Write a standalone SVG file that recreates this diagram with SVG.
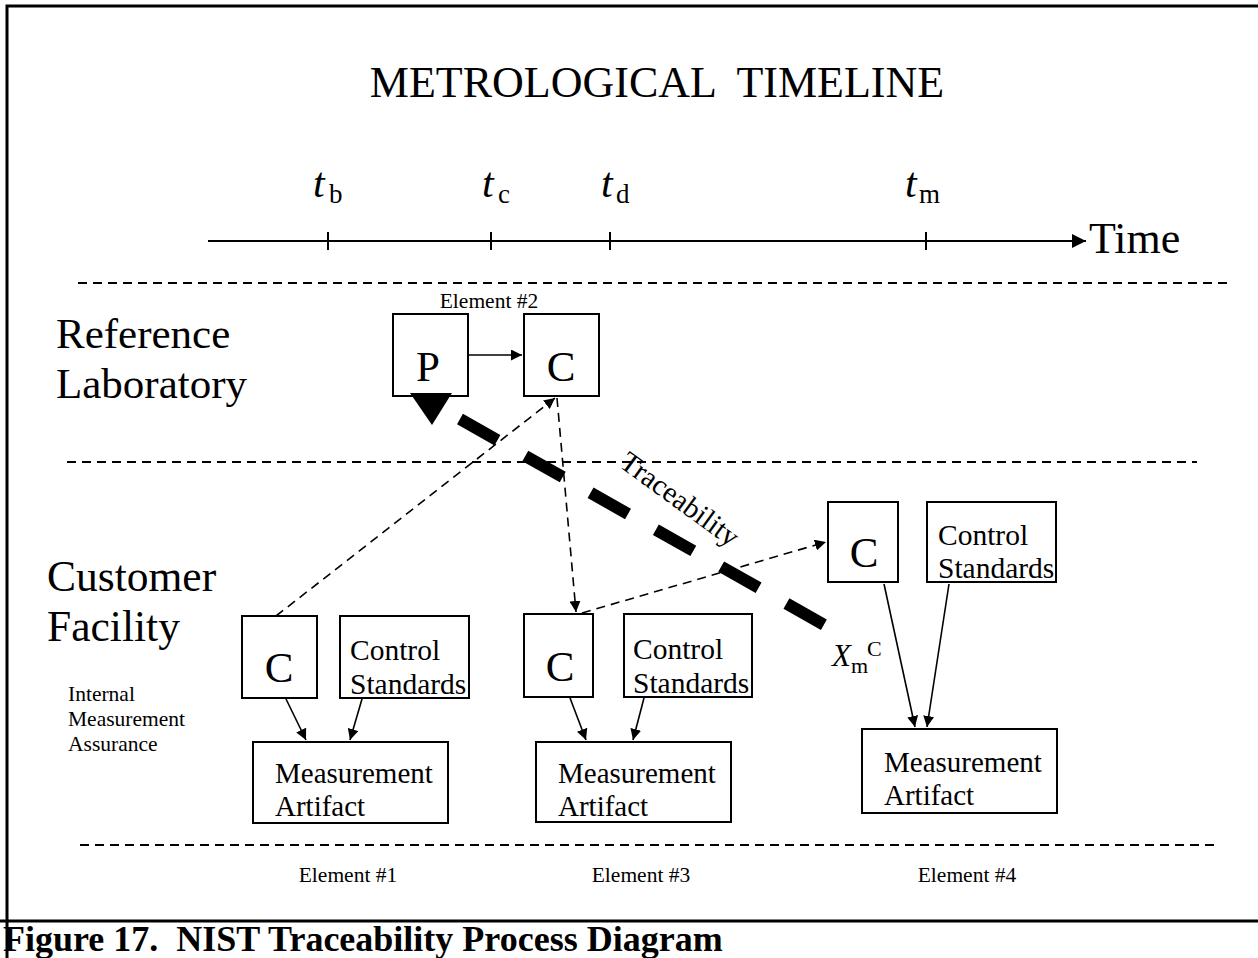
<svg xmlns="http://www.w3.org/2000/svg" width="1258" height="958" viewBox="0 0 1258 958">
<defs>
<style>
.t{font-family:"Liberation Serif","Times New Roman",serif;fill:#000}
.box{fill:#fff;stroke:#000;stroke-width:2}
.sep{stroke:#000;stroke-width:2;stroke-dasharray:9 6;fill:none}
.dash{stroke:#000;stroke-width:1.6;stroke-dasharray:9 6;fill:none}
.solid{stroke:#000;stroke-width:1.6;fill:none}
</style>
<marker id="ah" viewBox="0 0 10 10" refX="10" refY="5" markerWidth="11" markerHeight="11" markerUnits="userSpaceOnUse" orient="auto"><path d="M0,0 L10,5 L0,10 z" fill="#000"/></marker>
<marker id="ahb" viewBox="0 0 10 10" refX="10" refY="5" markerWidth="14" markerHeight="14" markerUnits="userSpaceOnUse" orient="auto"><path d="M0,0 L10,5 L0,10 z" fill="#000"/></marker>
</defs>
<rect width="1258" height="958" fill="#fff"/>
<g id="frame">
<path d="M7,958 V6 H1258" fill="none" stroke="#000" stroke-width="3"/>
<line x1="0" y1="921" x2="1258" y2="921" stroke="#000" stroke-width="3"/>
</g>
<g id="title"><text class="t" x="657" y="97" font-size="44" text-anchor="middle" xml:space="preserve">METROLOGICAL  TIMELINE</text></g>
<g id="timeline">
<line x1="208" y1="241" x2="1086" y2="241" stroke="#000" stroke-width="2" marker-end="url(#ahb)"/>
<line x1="328" y1="232" x2="328" y2="250" stroke="#000" stroke-width="2"/>
<line x1="491" y1="232" x2="491" y2="250" stroke="#000" stroke-width="2"/>
<line x1="610" y1="232" x2="610" y2="250" stroke="#000" stroke-width="2"/>
<line x1="926" y1="232" x2="926" y2="250" stroke="#000" stroke-width="2"/>
<text class="t" x="1089" y="253" font-size="44">Time</text>
<text class="t" x="313" y="197" font-size="42" font-style="italic">t</text><text class="t" x="329" y="203" font-size="27">b</text>
<text class="t" x="482" y="197" font-size="42" font-style="italic">t</text><text class="t" x="498" y="203" font-size="27">c</text>
<text class="t" x="601" y="197" font-size="42" font-style="italic">t</text><text class="t" x="616" y="203" font-size="27">d</text>
<text class="t" x="905" y="197" font-size="42" font-style="italic">t</text><text class="t" x="919" y="203" font-size="27">m</text>
</g>
<g id="separators">
<line class="sep" x1="78" y1="283" x2="1232" y2="283"/>
<line class="sep" x1="67" y1="462" x2="1197" y2="462"/>
<line class="sep" x1="80" y1="845" x2="1220" y2="845"/>
</g>
<g id="row-labels">
<text class="t" x="56" y="348" font-size="43">Reference</text>
<text class="t" x="56" y="398" font-size="43">Laboratory</text>
<text class="t" x="47" y="591" font-size="43.5">Customer</text>
<text class="t" x="47" y="641" font-size="43.5">Facility</text>
<text class="t" x="68" y="701" font-size="21.5">Internal</text>
<text class="t" x="68" y="726" font-size="21.5">Measurement</text>
<text class="t" x="68" y="751" font-size="21.5">Assurance</text>
</g>
<g id="element2">
<text class="t" x="489" y="308" font-size="21.5" text-anchor="middle">Element #2</text>
<g id="e2-P"><rect class="box" x="393" y="314" width="75" height="82"/><text class="t" x="428" y="381" font-size="43" text-anchor="middle">P</text></g>
<g id="e2-C"><rect class="box" x="524" y="314" width="75" height="82"/><text class="t" x="561" y="381" font-size="43" text-anchor="middle">C</text></g>
</g>
<g id="element1">
<g id="e1-C"><rect class="box" x="242" y="616" width="75" height="82"/><text class="t" x="279" y="682" font-size="43" text-anchor="middle">C</text></g>
<g id="e1-CS"><rect class="box" x="340" y="616" width="129" height="82"/><text class="t" x="350" y="660" font-size="29.5">Control</text><text class="t" x="350" y="694" font-size="29.5">Standards</text></g>
<g id="e1-MA"><rect class="box" x="253" y="742" width="195" height="81"/><text class="t" x="275" y="783" font-size="29">Measurement</text><text class="t" x="275" y="816" font-size="29">Artifact</text></g>
<text class="t" x="348" y="882" font-size="21.5" text-anchor="middle">Element #1</text>
</g>
<g id="element3">
<g id="e3-C"><rect class="box" x="524" y="614" width="69" height="83"/><text class="t" x="560" y="681" font-size="43" text-anchor="middle">C</text></g>
<g id="e3-CS"><rect class="box" x="624" y="614" width="128" height="83"/><text class="t" x="633" y="659" font-size="29.5">Control</text><text class="t" x="633" y="693" font-size="29.5">Standards</text></g>
<g id="e3-MA"><rect class="box" x="536" y="742" width="195" height="80"/><text class="t" x="558" y="783" font-size="29">Measurement</text><text class="t" x="558" y="816" font-size="29">Artifact</text></g>
<text class="t" x="641" y="882" font-size="21.5" text-anchor="middle">Element #3</text>
</g>
<g id="element4">
<g id="e4-C"><rect class="box" x="828" y="502" width="70" height="80"/><text class="t" x="864" y="567" font-size="43" text-anchor="middle">C</text></g>
<g id="e4-CS"><rect class="box" x="927" y="502" width="129" height="80"/><text class="t" x="938" y="545" font-size="29.5">Control</text><text class="t" x="938" y="578" font-size="29.5">Standards</text></g>
<g id="e4-MA"><rect class="box" x="862" y="729" width="195" height="84"/><text class="t" x="884" y="772" font-size="29">Measurement</text><text class="t" x="884" y="805" font-size="29">Artifact</text></g>
<text class="t" x="967" y="882" font-size="21.5" text-anchor="middle">Element #4</text>
</g>
<g id="connectors">
<line class="solid" x1="469" y1="355" x2="522" y2="355" marker-end="url(#ah)"/>
<line class="dash" x1="276" y1="616" x2="555" y2="398" marker-end="url(#ah)"/>
<line class="dash" x1="557" y1="398" x2="576" y2="612" marker-end="url(#ah)"/>
<line class="dash" x1="582" y1="613" x2="826" y2="542" marker-end="url(#ah)"/>
<line class="solid" x1="286" y1="699" x2="306" y2="740" marker-end="url(#ah)"/>
<line class="solid" x1="362" y1="699" x2="350" y2="740" marker-end="url(#ah)"/>
<line class="solid" x1="570" y1="698" x2="586" y2="740" marker-end="url(#ah)"/>
<line class="solid" x1="644" y1="698" x2="633" y2="740" marker-end="url(#ah)"/>
<line class="solid" x1="884" y1="584" x2="915" y2="727" marker-end="url(#ah)"/>
<line class="solid" x1="949" y1="584" x2="927" y2="727" marker-end="url(#ah)"/>
<g id="traceability">
<polygon points="410,393 452,393 432,425" fill="#000"/>
<line x1="460" y1="419" x2="835" y2="631" stroke="#000" stroke-width="12" stroke-dasharray="43 32"/>
<text class="t" x="618" y="466" font-size="29" transform="rotate(36 618 466)">Traceability</text>
<text class="t" x="832" y="666" font-size="31" font-style="italic">X</text><text class="t" x="851" y="673" font-size="22">m</text><text class="t" x="867" y="656" font-size="22">C</text>
</g>
</g>
<g id="caption"><text class="t" x="3" y="951" font-size="36" font-weight="bold" xml:space="preserve">Figure 17.  NIST Traceability Process Diagram</text></g>
</svg>
